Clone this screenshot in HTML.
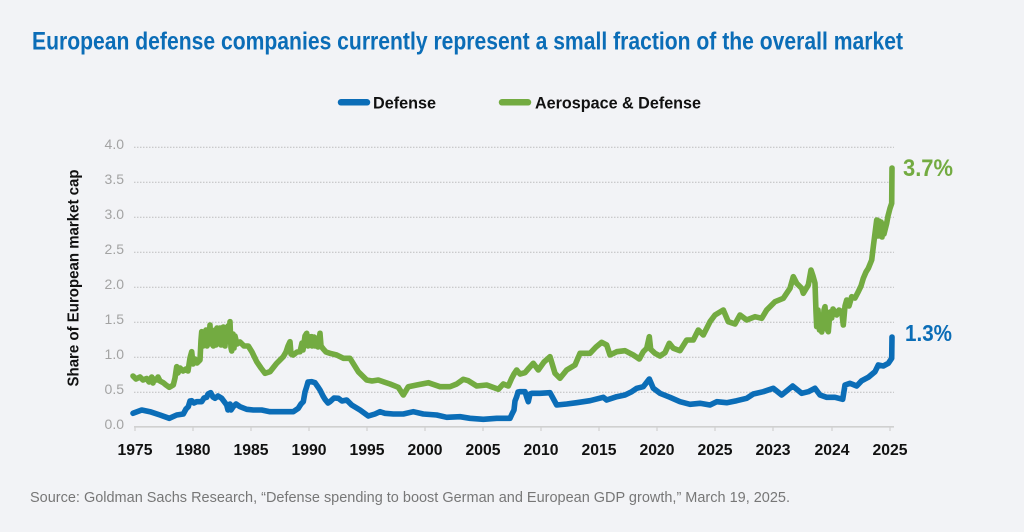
<!DOCTYPE html>
<html>
<head>
<meta charset="utf-8">
<style>
html,body{margin:0;padding:0;background:#f2f3f6;}
svg{display:block;}
</style>
</head>
<body>
<svg width="1024" height="532" viewBox="0 0 1024 532" xmlns="http://www.w3.org/2000/svg">
<rect width="1024" height="532" fill="#f2f3f6"/>
<!-- Title -->
<text x="32" y="49.5" font-family="Liberation Sans, sans-serif" font-weight="bold" font-size="25" fill="#0b6db7" textLength="871" lengthAdjust="spacingAndGlyphs">European defense companies currently represent a small fraction of the overall market</text>
<!-- Legend -->
<line x1="341" y1="102.3" x2="367" y2="102.3" stroke="#0b6db7" stroke-width="6.5" stroke-linecap="round"/>
<text x="373" y="108.3" font-family="Liberation Sans, sans-serif" font-weight="bold" font-size="17" fill="#111" textLength="63" lengthAdjust="spacingAndGlyphs">Defense</text>
<line x1="502" y1="102.3" x2="528" y2="102.3" stroke="#73ab41" stroke-width="6.5" stroke-linecap="round"/>
<text x="535" y="108.3" font-family="Liberation Sans, sans-serif" font-weight="bold" font-size="17" fill="#111" textLength="166" lengthAdjust="spacingAndGlyphs">Aerospace &amp; Defense</text>
<!-- Gridlines -->
<g stroke="#bdbdbd" stroke-width="1" stroke-dasharray="1.5 1.5">
<line x1="134" y1="147.3" x2="894" y2="147.3"/>
<line x1="134" y1="182.3" x2="894" y2="182.3"/>
<line x1="134" y1="217.3" x2="894" y2="217.3"/>
<line x1="134" y1="252.3" x2="894" y2="252.3"/>
<line x1="134" y1="287.3" x2="894" y2="287.3"/>
<line x1="134" y1="322.3" x2="894" y2="322.3"/>
<line x1="134" y1="357.3" x2="894" y2="357.3"/>
<line x1="134" y1="392.3" x2="894" y2="392.3"/>
</g>
<!-- Axis -->
<line x1="134" y1="426.8" x2="894" y2="426.8" stroke="#d0d0d0" stroke-width="1.6"/>
<g stroke="#d0d0d0" stroke-width="1.2">
<line x1="135" y1="426" x2="135" y2="431"/>
<line x1="193" y1="426" x2="193" y2="431"/>
<line x1="251" y1="426" x2="251" y2="431"/>
<line x1="309" y1="426" x2="309" y2="431"/>
<line x1="367" y1="426" x2="367" y2="431"/>
<line x1="425" y1="426" x2="425" y2="431"/>
<line x1="483" y1="426" x2="483" y2="431"/>
<line x1="541" y1="426" x2="541" y2="431"/>
<line x1="599" y1="426" x2="599" y2="431"/>
<line x1="657" y1="426" x2="657" y2="431"/>
<line x1="715" y1="426" x2="715" y2="431"/>
<line x1="773" y1="426" x2="773" y2="431"/>
<line x1="832" y1="426" x2="832" y2="431"/>
<line x1="890" y1="426" x2="890" y2="431"/>
</g>
<!-- Y tick labels -->
<g font-family="Liberation Sans, sans-serif" font-size="14" fill="#a3a3a3" text-anchor="end">
<text x="124" y="149">4.0</text>
<text x="124" y="184">3.5</text>
<text x="124" y="219">3.0</text>
<text x="124" y="254">2.5</text>
<text x="124" y="289">2.0</text>
<text x="124" y="324">1.5</text>
<text x="124" y="359">1.0</text>
<text x="124" y="394">0.5</text>
<text x="124" y="429">0.0</text>
</g>
<!-- Y axis title -->
<text transform="translate(78.5,278) rotate(-90)" text-anchor="middle" font-family="Liberation Sans, sans-serif" font-weight="bold" font-size="16" fill="#111" textLength="217" lengthAdjust="spacingAndGlyphs">Share of European market cap</text>
<!-- X labels -->
<g font-family="Liberation Sans, sans-serif" font-weight="bold" font-size="16" fill="#111" text-anchor="middle">
<text x="135" y="455" textLength="35" lengthAdjust="spacingAndGlyphs">1975</text>
<text x="193" y="455" textLength="35" lengthAdjust="spacingAndGlyphs">1980</text>
<text x="251" y="455" textLength="35" lengthAdjust="spacingAndGlyphs">1985</text>
<text x="309" y="455" textLength="35" lengthAdjust="spacingAndGlyphs">1990</text>
<text x="367" y="455" textLength="35" lengthAdjust="spacingAndGlyphs">1995</text>
<text x="425" y="455" textLength="35" lengthAdjust="spacingAndGlyphs">2000</text>
<text x="483" y="455" textLength="35" lengthAdjust="spacingAndGlyphs">2005</text>
<text x="541" y="455" textLength="35" lengthAdjust="spacingAndGlyphs">2010</text>
<text x="599" y="455" textLength="35" lengthAdjust="spacingAndGlyphs">2015</text>
<text x="657" y="455" textLength="35" lengthAdjust="spacingAndGlyphs">2020</text>
<text x="715" y="455" textLength="35" lengthAdjust="spacingAndGlyphs">2025</text>
<text x="773" y="455" textLength="35" lengthAdjust="spacingAndGlyphs">2023</text>
<text x="832" y="455" textLength="35" lengthAdjust="spacingAndGlyphs">2024</text>
<text x="890" y="455" textLength="35" lengthAdjust="spacingAndGlyphs">2025</text>
</g>
<!-- Green series -->
<polyline fill="none" stroke="#73ab41" stroke-width="5.6" stroke-linejoin="round" stroke-linecap="round" points="
133,376 136,379 140,377 143,380 146.7,378.5 149,382 151.7,377 153,383 154,379 156.7,380 158,377 160,381 163.3,382.7 166,385 169.3,387.3 173.3,385 175,378 176.7,366.7 178,373 180,368 183,371 186,369 188,371 190,358 191.7,351.7 193,364 195,359 197,363 200,360 201,340 201.7,331.7 203,346 204,334 205,344 206,330 207,346 208,330 209,338 210,325 211,344 212,332 213.3,346 215,330 216,345 217,328 218.3,342 220,328 221,345 222,333 223.3,327 225,346 226,334 226.7,342 228,326 229,336 230,321.7 231,348 231.7,351 233,334 234,348 235,336 237,344 240,342 244,346 248.3,346 252,352 256.7,361.7 261,368 265,373.3 270,371.7 276.7,363.3 280,360 283.3,356.7 286,352 288,346 290,341.7 291,354 293.3,355 297,352 300,351.7 302,343 303,350 305,336 306.7,333.3 308,346 309,337 311.7,336.7 312,346 314,337 315,346 316.7,338.3 318,347 320,333.3 321,346 323.3,349 326,352 330,353.3 336.7,355 343.3,358.3 350,358.3 358.3,371.7 366.7,380 372,381 378.3,380 384,382 390,384 398.3,387.3 403.3,395 408.3,386.7 416.7,385 428.3,382.7 440,386.7 450,386.7 456.7,384 463.3,379.3 468.3,380.7 476.7,386 486.7,385 498.3,389.3 503.3,384 508.3,386 511.7,378.3 514,374 516.7,370 520,374 525,372.7 529,368 533.3,363.3 538.3,370 544,362 550,356.7 555,373.3 560,378.3 566.7,370 575,365 580,353.3 590,353.3 596,347 601.7,342.3 606.7,345 610,355 616.7,351.7 625,350.7 633.3,355 639.3,359 643.3,351.7 646.7,348.3 649.3,336.7 650.7,349.3 655,353.3 660,356 665,352.7 669.3,343.3 673.3,348.3 680,350.7 686.7,340 693.3,340 698.3,330 703.3,335 710,321.7 715,315 723.3,310 728.3,321.7 735,324 740,315 746.7,320 755,316.7 761.7,318.3 766.7,310 775,301.7 783.3,298.3 790,288.3 793.3,276.7 796.7,283.3 801.7,288.3 803.3,293.3 808.3,285 811,270 813,276 815,283.3 816,312 816.7,326.7 818,310 819.5,330 821,318 821.7,332 823,326 824,310 825,306.7 826.5,328 828.3,331.7 830,312 831.7,318 833,309 836.7,315 839,310 841.7,311.7 843.3,325 845,306 846.7,300 849,306 851.7,296.7 855,298 858.3,291.7 861,286 863.3,278.3 866,272 868.3,268.3 871.7,260 873.3,246.7 875,233.3 876.7,220 878,236 879,221 880,236 881,222 882,237 883,224 884,234 886.7,223.3 888,216 890,208.3 891.7,203.3 892,168"/>
<!-- Blue series -->
<polyline fill="none" stroke="#0b6db7" stroke-width="5.6" stroke-linejoin="round" stroke-linecap="round" points="
133,413.3 141.7,410 150,411.7 160,415 169.3,418.3 176.7,415 183.3,414 186,409 188.3,406.7 190,401 191.7,400.7 194,403 196.7,401.7 201.7,401.7 204,398 206.7,397.3 208,394 210.7,392.7 213,397 215,398.3 218,396 221.7,398.3 226.7,405 228,410 230,404 231,410 233.3,406.7 236,404 240,406.7 246.7,409.3 253.3,410 261.7,410 270,411.7 280,411.7 293.3,411.7 298.3,408.3 301,404 303.3,401.7 305,392 306.7,386.7 308,382 311.7,381.7 315,382.7 318,387 320,390 323,396 325,399.3 328,403 330,401.7 334,398 338.3,398.3 342,401 346.7,400 351.7,405 360,410 368.3,416 375,414 380,411.7 385,413.3 393.3,414 403.3,414 413.3,411.7 423.3,414 436.7,415 446.7,417.3 460,416.7 470,418.3 483.3,419.3 496.7,418.3 510,418.3 512,414 514,410 515,401 516.7,396.7 518,392 520,391.7 525,391.7 527,398 528.3,401.7 530,394 531.7,393.3 540,393.3 550,392.7 556.7,405 566.7,404 576.7,402.7 590,400.7 603.3,397.3 606.7,400 616.7,396.7 625,395 631.7,391.7 636.7,388.3 643.3,386.7 649.3,379 653.3,388.3 660,393.3 670,397.3 680,401.7 690,404.3 700,403.3 710,405 716.7,401.7 726.7,402.7 736.7,400.7 746.7,398.3 753.3,394 763.3,391.7 773.3,388.3 781.7,395 792.7,386 801.7,393.3 808.3,391.7 815,388.3 820,395 826.7,397.3 835,397.3 842.7,399.3 845,385 850,383.3 856.7,386 861.7,380.7 868.3,377.3 875,371.7 878.3,365 883.3,366 888.3,363.3 891.7,358.3 892,337"/>
<!-- End labels -->
<text x="903" y="176" font-family="Liberation Sans, sans-serif" font-weight="bold" font-size="24" fill="#73ab41" textLength="50" lengthAdjust="spacingAndGlyphs">3.7%</text>
<text x="905" y="341" font-family="Liberation Sans, sans-serif" font-weight="bold" font-size="23" fill="#0b6db7" textLength="47" lengthAdjust="spacingAndGlyphs">1.3%</text>
<!-- Source -->
<text x="30" y="502" font-family="Liberation Sans, sans-serif" font-size="15" fill="#777" textLength="760" lengthAdjust="spacingAndGlyphs">Source: Goldman Sachs Research, “Defense spending to boost German and European GDP growth,” March 19, 2025.</text>
</svg>
</body>
</html>
